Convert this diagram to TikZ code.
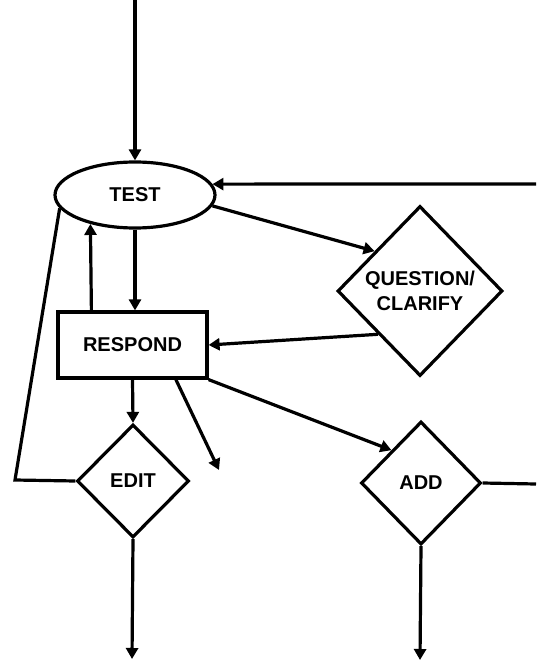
\documentclass[tikz,border=0pt]{standalone}
\usepackage{fontspec}
\setmainfont{Liberation Sans}
\usetikzlibrary{shapes.geometric,arrows.meta,calc}

\tikzset{
  lw/.style={line width=3.2pt},
  arr/.style={lw, -{Triangle[length=11pt,width=12pt]}},
  plain/.style={lw},
  lbl/.style={font=\bfseries\fontsize{20}{25}\selectfont, align=center, inner sep=0pt},
  oval/.style={ellipse, draw, lw, lbl, minimum width=160pt, minimum height=66pt},
  box/.style={rectangle, draw, lw, lbl, minimum width=149pt, minimum height=66pt},
  decide/.style={diamond, draw, lw, lbl, aspect=1},
}

\begin{document}
\begin{tikzpicture}[x=1pt, y=-1pt, line join=miter]
  \fill[white] (0,0) rectangle (536,660);
  \useasboundingbox (0,0) rectangle (536,660);

  % main nodes
  \node[oval] (test) at (135,195) {TEST};
  \node[box] (respond) at (132.5,345) {RESPOND};
  \node[decide, minimum width=165pt, minimum height=170pt] (qc) at (420,291) {QUESTION/\\CLARIFY};
  \node[decide, minimum width=112pt, minimum height=113pt] (edit) at (133,481) {EDIT};
  \node[decide, minimum width=120pt, minimum height=123pt] (add) at (421,483) {ADD};

  % free ends of connectors
  \coordinate (entry) at (135,0);
  \coordinate (rin) at (536,184);
  \coordinate (lc) at (15,480);
  \coordinate (loose) at (219,470);
  \coordinate (rout) at (536,484);
  \coordinate (editout) at (132,659);
  \coordinate (addout) at (420,660);

  % connectors
  \draw[arr] (entry) -- (test.north);
  \draw[arr] (rin) -- (test.8);
  \draw[arr] (test.-8) -- ($(qc.north)!0.54!(qc.west)$);
  \draw[arr] ($(qc.west)!0.5!(qc.south)$) -- (respond.east);
  \draw[arr] (test.south) -- (test.south |- respond.north);
  \draw[arr] ($(respond.north west)!0.23!(respond.north east)$) -- (test.213);
  \draw[plain] (test.190) -- (lc) -- (edit.west);
  \draw[arr] (respond.south) -- (edit.north);
  \draw[arr] ($(respond.south west)!0.785!(respond.south east)$) -- (loose);
  \draw[arr] (respond.south east) -- ($(add.north)!0.48!(add.west)$);
  \draw[plain] (add.east) -- (rout);
  \draw[arr] (edit.south) -- (editout);
  \draw[arr] (add.south) -- (addout);
\end{tikzpicture}
\end{document}
